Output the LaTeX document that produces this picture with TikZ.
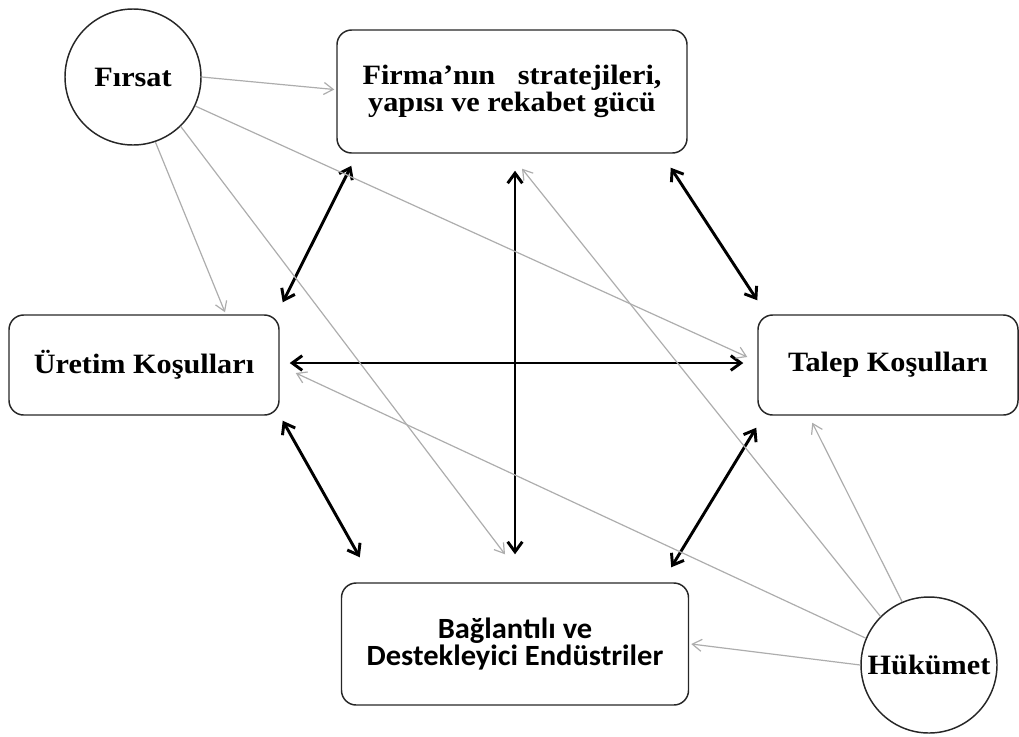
\documentclass[tikz,border=0pt]{standalone}
\usepackage{fontspec}
\setmainfont{Liberation Serif}[FakeStretch=1.08]
\newfontfamily\calibri{Carlito}[FakeStretch=1.04]
\usetikzlibrary{arrows.meta, calc, positioning}

\begin{document}
\begin{tikzpicture}[x=0.75pt, y=-0.75pt,
		kutu/.style={draw=black!85, line width=1.1pt, rounded corners=11pt, align=center, inner sep=0pt},
		daire/.style={draw=black!85, line width=1.1pt, circle, minimum size=102pt, inner sep=0pt},
		yazi/.style={font=\bfseries\fontsize{21}{17}\selectfont},
		kalin/.style={line width=2.2pt, {Straight Barb[length=7.5pt,width=11pt]}-{Straight Barb[length=7.5pt,width=11pt]}},
		ince/.style={draw=black!32, line width=0.9pt, -{Straight Barb[length=7pt,width=9pt]}}]
		
		\useasboundingbox (0,0) rectangle (1019,736);
		
		% kutular
		\node[kutu, yazi, minimum width=262.5pt, minimum height=92.25pt] (firma) at (512,91.5) {Firma’nın~~~stratejileri,\\yapısı ve rekabet gücü};
		\node[kutu, yazi, minimum width=202.5pt, minimum height=75pt] (uretim) at (144,365) {Üretim Koşulları};
		\node[kutu, yazi, minimum width=195pt, minimum height=75pt] (talep) at (888,365) {Talep Koşulları};
		\node[kutu, font=\calibri\bfseries\fontsize{22}{20.25}\selectfont, minimum width=260.25pt, minimum height=91.5pt] (baglanti) at (515,644) {Bağlantılı ve\\Destekleyici Endüstriler};
		
		% daireler
		\node[daire, yazi] (firsat) at (133,77) {Fırsat};
		\node[daire, yazi] (hukumet) at (929,665) {Hükümet};
		
		% karsilikli oklar
		\draw[kalin] ($(firma.south west)+(15,12)$) -- ($(uretim.north east)+(3,-12)$);
		\draw[kalin] ($(firma.south east)+(-17,14)$) -- ($(talep.north west)+(0,-14)$);
		\draw[kalin] ($(firma.south)+(3,17)$) -- ($(baglanti.north)+(0,-28)$);
		\draw[kalin] ($(uretim.east)+(10,-2)$) -- ($(talep.west)+(-14,-2)$);
		\draw[kalin] ($(uretim.south east)+(3,5)$) -- ($(baglanti.north west)+(19,-25)$);
		\draw[kalin] ($(talep.south west)+(-1,12)$) -- ($(baglanti.north east)+(-18,-15)$);
		
		% firsat
		\draw[ince] (firsat.east) -- ($(firma.west)+(-2,-2)$);
		\draw[ince] (firsat.-25) -- ($(talep.west)+(-10,-8)$);
		\draw[ince] (firsat.-71) -- ($(uretim.north)+(81,-2)$);
		\draw[ince] (firsat.-46) -- ($(baglanti.north)+(-10,-28)$);
		
		% hukumet
		\draw[ince] (hukumet.113) -- ($(talep.south west)+(55,7)$);
		\draw[ince] (hukumet.135) -- ($(firma.south)+(10,15)$);
		\draw[ince] (hukumet.157) -- ($(uretim.east)+(16,8)$);
		\draw[ince] (hukumet.west) -- ($(baglanti.east)+(2,0)$);
		
\end{tikzpicture}
\end{document}
